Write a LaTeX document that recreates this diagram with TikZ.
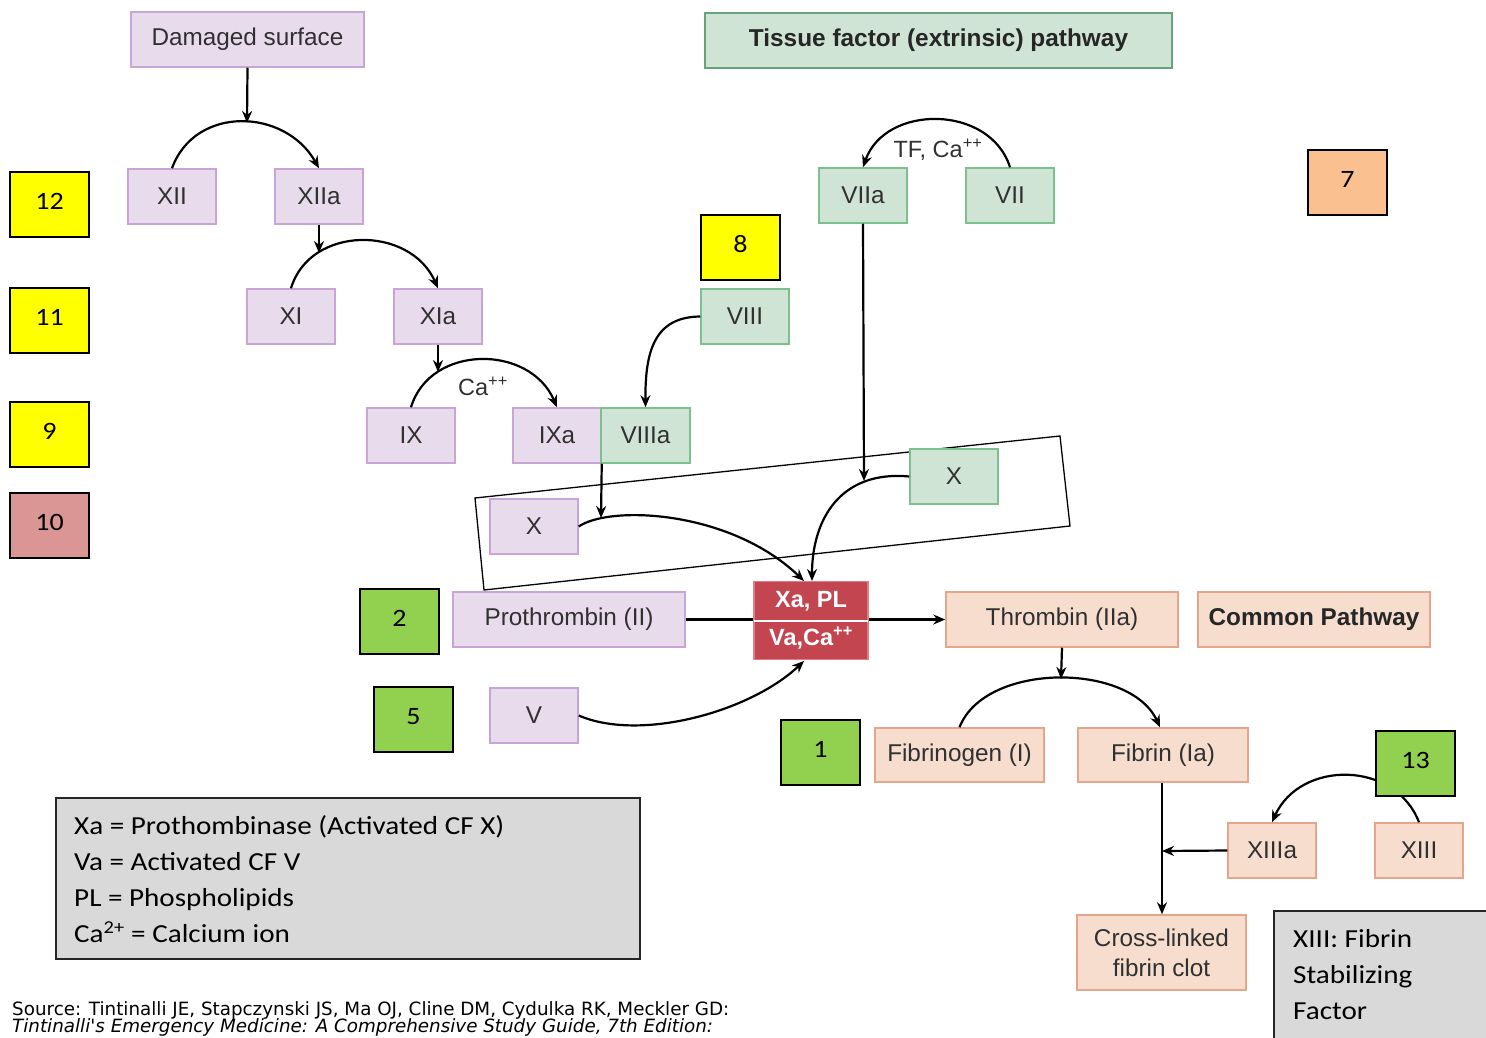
\documentclass[tikz,border=0pt]{standalone}
\usepackage{fontspec}
\setmainfont{Liberation Sans}
\newfontfamily\calib[FakeStretch=1.12]{Carlito}
\newfontfamily\verd{DejaVu Sans}
\usetikzlibrary{arrows.meta}
\definecolor{pfill}{HTML}{E8DCEC}
\definecolor{pdraw}{HTML}{C9A5D6}
\definecolor{gfill}{HTML}{D0E4D6}
\definecolor{gdraw}{HTML}{7CC08E}
\definecolor{ofill}{HTML}{F6DDCD}
\definecolor{odraw}{HTML}{E5A58A}
\definecolor{xared}{HTML}{C24550}
\definecolor{xadraw}{HTML}{E07C84}
\definecolor{lgray}{HTML}{D9D9D9}
\definecolor{txt}{HTML}{303030}
\definecolor{nyellow}{HTML}{FFFF00}
\definecolor{ngreen}{HTML}{92D050}
\definecolor{norange}{HTML}{FAC090}
\definecolor{npink}{HTML}{D99694}
\tikzset{
  basebox/.style={line width=1.5pt, minimum height=55pt, minimum width=88pt, inner sep=0pt, text=txt, font=\fontsize{24.3}{28}\selectfont},
  pbox/.style={basebox, draw=pdraw, fill=pfill},
  gbox/.style={basebox, draw=gdraw, fill=gfill},
  obox/.style={basebox, draw=odraw, fill=ofill},
  nbox/.style={draw=black, line width=1.5pt, minimum width=79pt, minimum height=65pt, inner sep=0pt, text height=16pt, text depth=6pt, font=\calib\fontsize{25}{30}\selectfont},
  arr/.style={line width=2.2pt, -{Stealth[length=12pt,width=10pt]}},
  plain/.style={line width=2.2pt},
  lbl/.style={inner sep=0pt, text=txt, font=\fontsize{23.5}{27}\selectfont},
}
\begin{document}
\begin{tikzpicture}[x=1pt,y=-1pt]
\useasboundingbox (0,0) rectangle (1486,1038);
\clip (0,0) rectangle (1486,1038);

% framing rectangle (tilted)
\draw[line width=1.3pt] (475,498) -- (1060,436) -- (1070,526) -- (484,590) -- cycle;

% pathway nodes
\node[pbox, minimum width=233pt] (dmg) at (247.5,39.5) {Damaged surface};
\node[gbox, minimum width=467pt, draw=gdraw!85!black, font=\bfseries\fontsize{24.4}{28}\selectfont, text=black!85] (tf) at (938.5,40.5) {Tissue factor (extrinsic) pathway};
\node[pbox] (xii) at (172,196.5) {XII};
\node[pbox] (xiia) at (319,196.5) {XIIa};
\node[pbox] (xi) at (291,316.5) {XI};
\node[pbox] (xia) at (438,316.5) {XIa};
\node[pbox] (ix) at (411,435.5) {IX};
\node[pbox] (ixa) at (557,435.5) {IXa};
\node[gbox, minimum width=89pt] (viiia) at (645.5,435.5) {VIIIa};
\node[gbox] (viii) at (745,316.5) {VIII};
\node[gbox] (viia) at (863,195.5) {VIIa};
\node[gbox] (vii) at (1010,195.5) {VII};
\node[gbox] (xg) at (954,476.5) {X};
\node[pbox] (xp) at (534,526.5) {X};
\node[pbox, minimum width=232pt] (pro) at (569,619.5) {Prothrombin (II)};
\node[pbox] (v) at (534,715.5) {V};
\node[obox, minimum width=232pt] (thr) at (1062,619.5) {Thrombin (IIa)};
\node[obox, minimum width=232pt, font=\bfseries\fontsize{24.3}{28}\selectfont, text=black!85] (cp) at (1314,619.5) {Common Pathway};
\node[obox, minimum width=169pt, minimum height=54pt] (fbg) at (959.5,755) {Fibrinogen (I)};
\node[obox, minimum width=170pt, minimum height=54pt] (fbn) at (1163,755) {Fibrin (Ia)};
\node[obox] (xiiia) at (1272,850.5) {XIIIa};
\node[obox] (xiii) at (1419,850.5) {XIII};
\node[obox, minimum width=169pt, minimum height=75pt, align=center, font=\fontsize{24.3}{30}\selectfont] (clot) at (1161.5,952.5) {Cross-linked\\fibrin clot};

% central complex
\node[draw=xadraw, fill=xared, line width=1.5pt, minimum width=114pt, minimum height=78pt, inner sep=0pt] (xa) at (811,620.5) {};
\draw[white, line width=2pt] ([xshift=0.75pt]xa.west) -- ([xshift=-0.75pt]xa.east);
\node[inner sep=0pt, text=white, font=\bfseries\fontsize{23.5}{27}\selectfont] (xat) at (811,601) {Xa, PL};
\node[inner sep=0pt, text=white, font=\bfseries\fontsize{23.5}{27}\selectfont] (xab) at (811,638) {Va,Ca\textsuperscript{++}};

% number boxes
\node[nbox, fill=nyellow] (n12) at (49.5,204.5) {12};
\node[nbox, fill=nyellow] (n11) at (49.5,320.5) {11};
\node[nbox, fill=nyellow] (n9) at (49.5,434.5) {9};
\node[nbox, fill=npink] (n10) at (49.5,525.5) {10};
\node[nbox, fill=norange] (n7) at (1347.5,182.5) {7};
\node[nbox, fill=nyellow] (n8) at (740.5,247.5) {8};
\node[nbox, fill=ngreen] (n2) at (399.5,621.5) {2};
\node[nbox, fill=ngreen] (n5) at (413.5,719.5) {5};
\node[nbox, fill=ngreen] (n1) at (820.5,752.5) {1};

% arcs and connectors
\coordinate (p1) at (247,123);
\draw[arr] (xii.north) .. controls (195,105) and (285,108) .. (xiia.north);
\draw[arr] (dmg.south) -- (p1);

\coordinate (p2) at (319,253);
\draw[arr] (xi.north) .. controls (310,225) and (410,225) .. (xia.north);
\draw[arr] (xiia.south) -- (p2);

\coordinate (p3) at (438,372);
\draw[arr] (ix.north) .. controls (430,344) and (530,344) .. (ixa.north);
\draw[arr] (xia.south) -- (p3);
\node[lbl] (ca1) at (483,386) {Ca\textsuperscript{++}};

\draw[arr] (vii.north) .. controls (990,104) and (885,104) .. (viia.north);
\node[lbl] (tfca) at (938,150) {TF, Ca\textsuperscript{++}};

\draw[arr] (viii.west) .. controls (655,317) and (645,350) .. (viiia.north);

\coordinate (xaN1) at (804,581);
\coordinate (xaN2) at (812,581);
\coordinate (xaS) at (804,661);
\draw[arr] (xg.west) .. controls (840,470) and (812,520) .. (xaN2);
\coordinate (p4) at (864,481);
\draw[arr] (viia.south) -- (p4);

\draw[arr] (xp.east) .. controls (610,505) and (730,510) .. (xaN1);
\coordinate (p5) at (601,518);
\draw[arr] (ixa.south east) -- (p5);

\draw[arr] (v.east) .. controls (640,742) and (750,712) .. (xaS);

\draw[plain] (pro.east) -- (pro.east -| xa.west);
\draw[arr] (xa.east |- thr.west) -- (thr.west);

\coordinate (p6) at (1061,679);
\draw[arr] (fbg.north) .. controls (985,662) and (1130,662) .. ([xshift=-3pt]fbn.north);
\draw[arr] (thr.south) -- (p6);

\coordinate (fj) at (1162,851);
\draw[arr] ([xshift=-1pt]fbn.south) -- ([xshift=0.5pt]clot.north);
\draw[arr] (xiiia.west) -- (fj);

\draw[arr] (xiii.north) .. controls (1395,760) and (1300,760) .. (xiiia.north);
\node[nbox, fill=ngreen] (n13) at (1415.5,763.5) {13};

% legend
\node[draw=black!85, fill=lgray, line width=1.5pt, anchor=north west, minimum width=584pt, minimum height=161pt, inner sep=0pt] (leg) at (55,797) {};
\node[anchor=north west, align=left, inner sep=0pt, font=\calib\fontsize{26}{36}\selectfont] (legt) at (74,815) {Xa = Prothombinase (Activated CF X)\\Va = Activated CF V\\PL = Phospholipids\\Ca\textsuperscript{2+} = Calcium ion};

\node[draw=black!85, fill=lgray, line width=1.5pt, anchor=north west, minimum width=240pt, minimum height=160pt, inner sep=0pt] (info) at (1273,910) {};
\node[anchor=north west, align=left, inner sep=0pt, font=\calib\fontsize{26}{36}\selectfont] (infot) at (1293,929) {XIII: Fibrin\\Stabilizing\\Factor};

% source
\node[anchor=base west, inner sep=0pt, font=\verd\fontsize{18.3}{18}\selectfont] (src1) at (12,1015) {Source: Tintinalli JE, Stapczynski JS, Ma OJ, Cline DM, Cydulka RK, Meckler GD:};
\node[anchor=base west, inner sep=0pt, font=\verd\itshape\fontsize{18.3}{18}\selectfont] (src2) at (12,1032.5) {Tintinalli's Emergency Medicine: A Comprehensive Study Guide, 7th Edition:};
\end{tikzpicture}
\end{document}
